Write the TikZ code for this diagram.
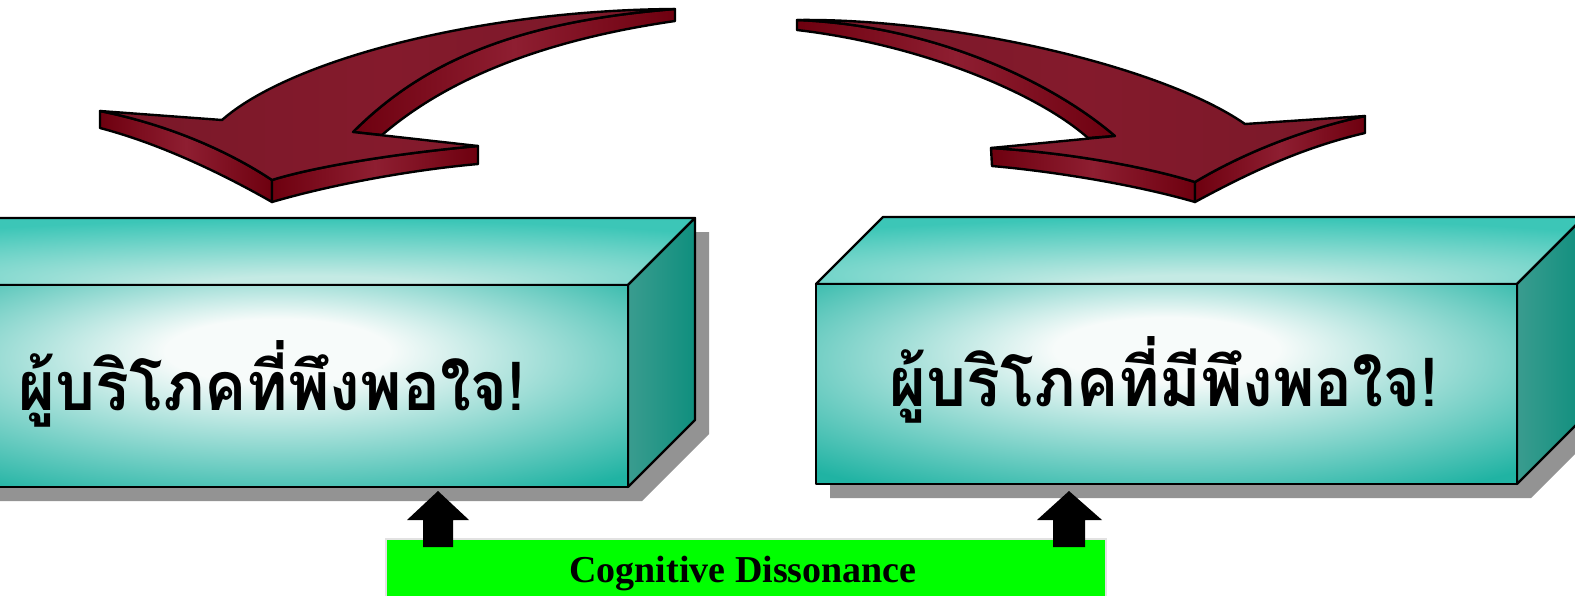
\documentclass[tikz,border=0pt]{standalone}
\usepackage{fontspec}
\setmainfont{Liberation Serif}
\newfontfamily\thaifont[Script=Thai]{Loma}
\usetikzlibrary{calc}

\definecolor{arrowtop}{HTML}{841A2C}
\definecolor{arrowdark}{HTML}{6E000F}
\definecolor{arrowmid}{HTML}{8E1E31}
\definecolor{tealedge}{HTML}{20B3A3}
\definecolor{tealtop}{HTML}{3CC6B7}
\definecolor{toplight}{HTML}{C4EAE4}
\definecolor{facelight}{HTML}{F7FBFA}
\definecolor{sideleft}{HTML}{3A9C8F}
\definecolor{sideright}{HTML}{0F8F7E}
\definecolor{shadowgray}{HTML}{939393}
\definecolor{neon}{HTML}{00FF00}
\definecolor{neonrim}{HTML}{E2E2E2}

% glow on the front of each block
\pgfdeclareradialshading{frontglow}{\pgfpoint{0bp}{10bp}}{%
  color(0bp)=(facelight); color(8bp)=(facelight);
  color(36bp)=(tealedge); color(60bp)=(tealedge)}
% glow on the lid, brightest along the front edge
\pgfdeclareradialshading{lidglow}{\pgfpoint{0bp}{-30bp}}{%
  color(0bp)=(toplight); color(8bp)=(toplight);
  color(36bp)=(tealtop); color(60bp)=(tealtop)}

\tikzset{
  outline/.style={draw=black, line width=2.3pt, line join=round},
  frontface/.style={outline, shading=frontglow},
  lidface/.style={outline, shading=lidglow},
  endface/.style={outline, left color=sideleft, right color=sideright},
  dropshadow/.style={fill=shadowgray},
  arrowface/.style={draw=black, line width=2.4pt, line join=round,
    left color=arrowtop!92!black, right color=arrowtop!92!black, middle color=arrowtop},
  arrowband/.style={draw=black, line width=2.4pt, line join=round,
    left color=arrowdark, right color=arrowdark, middle color=arrowmid},
  thaitext/.style={font=\thaifont\bfseries\fontsize{63}{70}\selectfont, inner sep=0pt, yscale=1.08},
  labeltext/.style={font=\bfseries\fontsize{38}{42}\selectfont, inner sep=0pt},
  blockarrow/.style={fill=black},
}

\begin{document}
\begin{tikzpicture}[x=1pt, y=-1pt]
\useasboundingbox (0,0) rectangle (1575,595);
\clip (0,0) rectangle (1575,595);

% ---------- left block ----------
\fill[dropshadow] (-59,299) -- (8,232) -- (709,232) -- (709,434) -- (642,501) -- (-59,501) -- cycle;
\path[lidface] (-73,285) -- (-6,218) -- (695,218) -- (628,285) -- cycle;
\path[endface] (628,285) -- (695,218) -- (695,420) -- (628,487) -- cycle;
\path[frontface] (-73,285) rectangle (628,487);
\node[thaitext, anchor=base] (consumerA) at (272,410) {ผู้บริโภคที่พึงพอใจ!};

% ---------- right block ----------
\fill[dropshadow] (830,298) -- (897,231) -- (1598,231) -- (1598,431) -- (1531,498) -- (830,498) -- cycle;
\path[lidface] (816,284) -- (883,217) -- (1584,217) -- (1517,284) -- cycle;
\path[endface] (1517,284) -- (1584,217) -- (1584,417) -- (1517,484) -- cycle;
\path[frontface] (816,284) rectangle (1517,484);
\node[thaitext, anchor=base] (consumerB) at (1164,406) {ผู้บริโภคที่มีพึงพอใจ!};

% ---------- left curved arrow ----------
\path[arrowband] (353,132) .. controls (420,65) and (510,22) .. (675,9) -- (675,21)
  .. controls (530,42) and (440,85) .. (382,135) -- cycle;
\path[arrowband] (100,111) .. controls (170,125) and (230,152) .. (272,180) -- (272,202)
  .. controls (230,178) and (165,145) .. (100,128) -- cycle;
\path[arrowband] (272,180) .. controls (320,165) and (410,152) .. (478,146) -- (478,164)
  .. controls (410,170) and (330,185) .. (272,202) -- cycle;
\path[arrowface] (675,9) .. controls (480,10) and (290,60) .. (222,120) -- (100,111)
  .. controls (170,125) and (230,152) .. (272,180)
  .. controls (320,165) and (410,152) .. (478,146) -- (353,132)
  .. controls (420,65) and (510,22) .. (675,9) -- cycle;

% ---------- right curved arrow ----------
\path[arrowband] (1115,136) .. controls (1050,80) and (930,25) .. (797,20) -- (797,30)
  .. controls (925,45) and (1040,95) .. (1088,138) -- cycle;
\path[arrowband] (991,148) .. controls (1060,152) and (1140,165) .. (1195,182) -- (1195,202)
  .. controls (1140,186) and (1060,172) .. (992,166) -- cycle;
\path[arrowband] (1195,182) .. controls (1240,155) and (1300,130) .. (1365,116) -- (1365,133)
  .. controls (1300,148) and (1245,175) .. (1195,202) -- cycle;
\path[arrowface] (797,20) .. controls (950,18) and (1160,65) .. (1245,124) -- (1365,116)
  .. controls (1300,130) and (1240,155) .. (1195,182)
  .. controls (1140,165) and (1060,152) .. (991,148) -- (1115,136)
  .. controls (1050,80) and (930,25) .. (797,20) -- cycle;

% ---------- cognitive dissonance bar ----------
\node[fill=neon, draw=neonrim, line width=1.5pt, minimum width=720pt, minimum height=70pt,
      anchor=north west, inner sep=0pt] (dissonance) at (385,538) {};
\node[labeltext, anchor=base] (dissonancetext) at (743,582) {Cognitive Dissonance};

% block arrows pushing up into both blocks
\coordinate (pushA) at (438,547);
\coordinate (pushB) at (1069,547);
\fill[blockarrow] (pushA) ++(-15,0) -- ++(0,-27) -- ++(-16,0) -- ($(pushA)+(0,-56)$)
  -- ($(pushA)+(31,-27)$) -- ++(-16,0) -- ++(0,27) -- cycle;
\fill[blockarrow] (pushB) ++(-16,0) -- ++(0,-27) -- ++(-16,0) -- ($(pushB)+(0,-56)$)
  -- ($(pushB)+(33,-27)$) -- ++(-17,0) -- ++(0,27) -- cycle;
\end{tikzpicture}
\end{document}
